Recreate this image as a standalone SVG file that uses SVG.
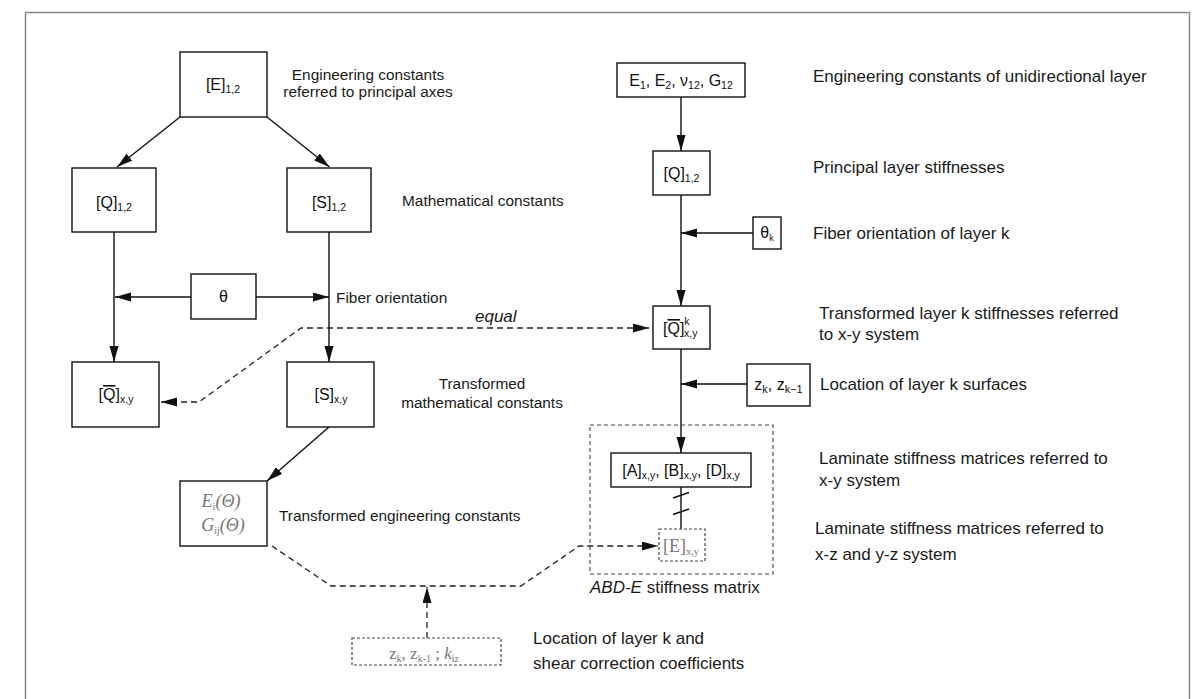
<svg xmlns="http://www.w3.org/2000/svg" width="1201" height="699" viewBox="0 0 1201 699">
<style>
.bg{fill:#fff}
.frame{fill:none;stroke:#888;stroke-width:1.5}
.box{fill:#fff;stroke:#111;stroke-width:1.4}
.dbox{fill:#fff;stroke:#444;stroke-width:1.2;stroke-dasharray:3 2}
.dframe{fill:none;stroke:#444;stroke-width:1.1;stroke-dasharray:4 3}
.ln{fill:none;stroke:#111;stroke-width:1.4}
.dl{fill:none;stroke:#222;stroke-width:1.3;stroke-dasharray:6 4}
.n{font-family:"Liberation Sans",Arial,sans-serif;font-size:16px;fill:#111}
.l{font-family:"Liberation Sans",Arial,sans-serif;font-size:15.4px;fill:#1a1a1a}
.r{font-family:"Liberation Sans",Arial,sans-serif;font-size:17px;fill:#1a1a1a}
.s{font-family:"Liberation Serif","Times New Roman",serif;fill:#777}
.ov{text-decoration:overline}
</style>
<defs>
<marker id="ah" markerUnits="userSpaceOnUse" markerWidth="17" markerHeight="10" refX="16" refY="4.5" orient="auto-start-reverse">
<path d="M0,0 L16,4.5 L0,9 Z" fill="#111"/>
</marker>
</defs>
<rect class="bg" x="0" y="0" width="1201" height="699"/>
<rect class="frame" x="25.5" y="12.5" width="1164" height="700"/>

<g id="connectors">
<line class="ln" x1="180" y1="117" x2="117" y2="167" marker-end="url(#ah)"/>
<line class="ln" x1="267" y1="117" x2="329.5" y2="167" marker-end="url(#ah)"/>
<line class="ln" x1="114" y1="232" x2="114" y2="362" marker-end="url(#ah)"/>
<line class="ln" x1="329" y1="232" x2="329" y2="362" marker-end="url(#ah)"/>
<line class="ln" x1="191" y1="297" x2="115" y2="297" marker-end="url(#ah)"/>
<line class="ln" x1="256" y1="297" x2="329" y2="297" marker-end="url(#ah)"/>
<line class="ln" x1="329" y1="427" x2="267" y2="481" marker-end="url(#ah)"/>
<path class="dl" d="M161,402 L199,402 L301,328 L649,328" marker-start="url(#ah)" marker-end="url(#ah)"/>
<path class="dl" d="M272,546 L331,586 L521,586 L579,546 L658,546" marker-end="url(#ah)"/>
<line class="dl" x1="427" y1="638" x2="427" y2="587" marker-end="url(#ah)"/>
<line class="ln" x1="681" y1="97" x2="681" y2="151" marker-end="url(#ah)"/>
<line class="ln" x1="681" y1="195" x2="681" y2="306" marker-end="url(#ah)"/>
<line class="ln" x1="753" y1="233" x2="681" y2="233" marker-end="url(#ah)"/>
<line class="ln" x1="681" y1="349" x2="681" y2="453" marker-end="url(#ah)"/>
<line class="ln" x1="747" y1="384" x2="681" y2="384" marker-end="url(#ah)"/>
<line class="ln" x1="681" y1="487" x2="681" y2="529" stroke-width="1.1"/>
<line class="ln" x1="673" y1="498" x2="689" y2="492.5" stroke-width="1.1"/>
<line class="ln" x1="673" y1="514.5" x2="689" y2="509" stroke-width="1.1"/>
</g>

<g id="n-E12">
<rect class="box" x="180" y="52" width="87" height="65"/>
<text class="n" x="223" y="90" text-anchor="middle">[E]<tspan font-size="10.5" dy="3">1,2</tspan></text>
</g>
<g id="n-Q12">
<rect class="box" x="72" y="168" width="84" height="64"/>
<text class="n" x="114" y="208" text-anchor="middle">[Q]<tspan font-size="10.5" dy="3">1,2</tspan></text>
</g>
<g id="n-S12">
<rect class="box" x="287" y="168" width="84" height="64"/>
<text class="n" x="329" y="208" text-anchor="middle">[S]<tspan font-size="10.5" dy="3">1,2</tspan></text>
</g>
<g id="n-theta">
<rect class="box" x="191" y="274" width="65" height="45"/>
<text class="n" x="223.5" y="302" text-anchor="middle">θ</text>
</g>
<g id="n-Qxy">
<rect class="box" x="72" y="362" width="87" height="65"/>
<text class="n" x="116" y="400" text-anchor="middle">[<tspan class="ov">Q</tspan>]<tspan font-size="10.5" dy="3">x,y</tspan></text>
</g>
<g id="n-Sxy">
<rect class="box" x="287" y="362" width="87" height="65"/>
<text class="n" x="331" y="400" text-anchor="middle">[S]<tspan font-size="10.5" dy="3">x,y</tspan></text>
</g>
<g id="n-Ei">
<rect class="box" x="180" y="481" width="87" height="65"/>
<text class="s" x="221" y="507" font-size="18" text-anchor="middle"><tspan font-style="italic">E</tspan><tspan font-size="10" dy="3">i</tspan><tspan font-style="italic" dy="-3">(Θ)</tspan></text>
<text class="s" x="223" y="531" font-size="18" text-anchor="middle"><tspan font-style="italic">G</tspan><tspan font-size="10" dy="3">ij</tspan><tspan font-style="italic" dy="-3">(Θ)</tspan></text>
</g>
<g id="n-zk-bottom">
<rect class="dbox" x="352" y="638" width="149" height="27"/>
<text class="s" x="424" y="659" font-size="17" text-anchor="middle">z<tspan font-size="10" dy="3">k</tspan><tspan dy="-3">, z</tspan><tspan font-size="10" dy="3">k-1</tspan><tspan dy="-3"> ; </tspan><tspan font-style="italic">k</tspan><tspan font-size="10" dy="3">iz</tspan></text>
</g>
<g id="n-E1">
<rect class="box" x="617" y="63" width="128" height="34"/>
<text class="n" x="681" y="86" font-size="16.5" text-anchor="middle">E<tspan font-size="10.5" dy="3">1</tspan><tspan dy="-3">, E</tspan><tspan font-size="10.5" dy="3">2</tspan><tspan dy="-3">, ν</tspan><tspan font-size="10.5" dy="3">12</tspan><tspan dy="-3">, G</tspan><tspan font-size="10.5" dy="3">12</tspan></text>
</g>
<g id="n-Q12r">
<rect class="box" x="653" y="151" width="57" height="44"/>
<text class="n" x="681.5" y="179" text-anchor="middle">[Q]<tspan font-size="10.5" dy="3">1,2</tspan></text>
</g>
<g id="n-thetak">
<rect class="box" x="753" y="217" width="28" height="32"/>
<text class="n" x="767" y="238" text-anchor="middle">θ<tspan font-size="9" dy="3">k</tspan></text>
</g>
<g id="n-Qk">
<rect class="box" x="653" y="306" width="57" height="43"/>
<text class="n" x="663" y="334">[<tspan class="ov">Q</tspan>]<tspan font-size="10.5" dy="-9">k</tspan><tspan font-size="10.5" dx="-5.5" dy="12">x,y</tspan></text>
</g>
<g id="n-zk">
<rect class="box" x="747" y="364" width="63" height="42"/>
<text class="n" x="778.5" y="390" text-anchor="middle" font-size="17">z<tspan font-size="11" dy="3">k</tspan><tspan dy="-3">, z</tspan><tspan font-size="11" dy="3">k−1</tspan></text>
</g>
<g id="n-ABDE">
<rect class="dframe" x="590" y="425" width="183" height="149"/>
<text class="r" x="590" y="593"><tspan font-style="italic">ABD-E</tspan> stiffness matrix</text>
</g>
<g id="n-ABD">
<rect class="box" x="611" y="453" width="140" height="34"/>
<text class="n" x="681" y="476" font-size="16.5" text-anchor="middle">[A]<tspan font-size="10.5" dy="3">x,y</tspan><tspan dy="-3">, [B]</tspan><tspan font-size="10.5" dy="3">x,y</tspan><tspan dy="-3">, [D]</tspan><tspan font-size="10.5" dy="3">x,y</tspan></text>
</g>
<g id="n-Exy">
<rect class="dbox" x="659" y="529" width="46" height="32"/>
<text class="s" x="663" y="552" font-size="18">[E]<tspan font-size="10.5" dy="3">x,y</tspan></text>
</g>

<g id="labels">
<text class="l" x="368" y="80" text-anchor="middle">Engineering constants</text>
<text class="l" x="368" y="97" text-anchor="middle">referred to principal axes</text>
<text class="l" x="402" y="205.5">Mathematical constants</text>
<text class="l" x="336" y="302.5">Fiber orientation</text>
<text class="r" x="475" y="322" font-style="italic">equal</text>
<text class="l" x="482" y="388.5" text-anchor="middle">Transformed</text>
<text class="l" x="482" y="407.5" text-anchor="middle">mathematical constants</text>
<text class="l" x="279" y="520.5">Transformed engineering constants</text>
<text class="r" x="533" y="644">Location of layer k and</text>
<text class="r" x="533" y="669">shear correction coefficients</text>
<text class="r" x="813" y="82">Engineering constants of unidirectional layer</text>
<text class="r" x="813" y="173">Principal layer stiffnesses</text>
<text class="r" x="813" y="239">Fiber orientation of layer k</text>
<text class="r" x="819" y="319">Transformed layer k stiffnesses referred</text>
<text class="r" x="819" y="340">to x-y system</text>
<text class="r" x="820" y="390">Location of layer k surfaces</text>
<text class="r" x="819" y="464">Laminate stiffness matrices referred to</text>
<text class="r" x="819" y="486">x-y system</text>
<text class="r" x="815" y="534">Laminate stiffness matrices referred to</text>
<text class="r" x="815" y="560">x-z and y-z system</text>
</g>
</svg>
